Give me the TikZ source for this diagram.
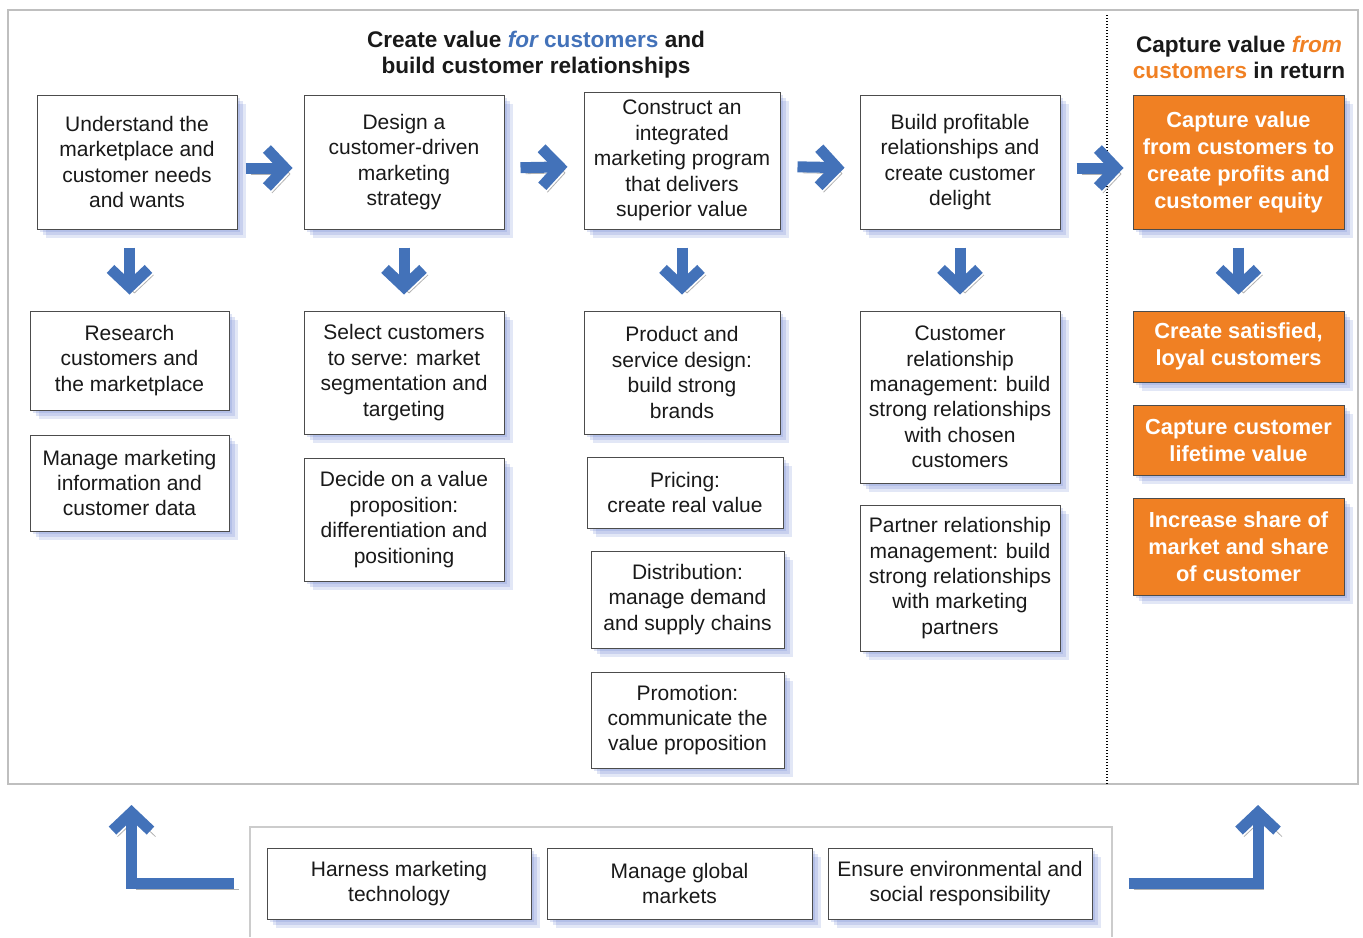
\documentclass[tikz,border=0pt]{standalone}
\usepackage{fontspec}
\setmainfont{Liberation Sans}
\usetikzlibrary{arrows.meta,shadows,calc}

\definecolor{flowblue}{RGB}{67,114,185}
\definecolor{captureorange}{RGB}{240,128,35}
\definecolor{shadowblue}{RGB}{95,120,205}

\begin{document}
\begin{tikzpicture}[x=0.5pt, y=-0.5pt,
    boxshadow/.style={
      general shadow={fill=shadowblue, opacity=.2, shadow xshift=1.5pt, shadow yshift=-1.5pt},
      general shadow={fill=shadowblue, opacity=.2, shadow xshift=3pt, shadow yshift=-3pt},
      general shadow={fill=shadowblue, opacity=.18, shadow xshift=4.5pt, shadow yshift=-4.5pt}},
    box/.style={draw=black!70, line width=0.5pt, fill=white, align=center, inner sep=1pt,
      text=black!90, font=\fontsize{10.5}{12.7}\selectfont, boxshadow},
    capbox/.style={box, fill=captureorange, text=white, font=\fontsize{10.9}{13.5}\selectfont\bfseries},
    title/.style={align=center, text=black!90, font=\fontsize{11.3}{13}\selectfont\bfseries},
    flow/.style={draw=flowblue, line width=5.5pt, -{Straight Barb[length=9pt,width=19pt]},
      preaction={draw=black!30, transform canvas={shift={(2.5pt,-3pt)}}}}]
  \useasboundingbox (0,0) rectangle (1363,937);

  % Frames
  \draw[black!25, line width=0.7pt] (8,10) rectangle (1358,784);
  \draw[black, line width=0.6pt, dash pattern=on 0.7pt off 0.8pt] (1107,15) -- (1107,784);
  \draw[black!20, line width=0.7pt] (250,937) |- (1112,827) -- (1112,937);

  % Headings
  \node[title] (ttlcreate) at (536,55)
    {Create value \textcolor{flowblue}{\itshape for} \textcolor{flowblue}{customers} and\\build customer relationships};
  \node[title] (ttlcapture) at (1239,57.5)
    {Capture value \textcolor{captureorange}{\itshape from}\\\textcolor{captureorange}{customers} in return};

  % Top row
  \node[box, minimum width=100pt, minimum height=67pt] (und) at (137,162)
    {Understand the\\marketplace and\\customer needs\\and wants};
  \node[box, minimum width=100pt, minimum height=67pt] (des) at (404,162)
    {Design a\\customer-driven\\marketing\\strategy};
  \node[box, minimum width=98pt, minimum height=68.5pt] (con) at (682,160.5)
    {Construct an\\integrated\\marketing program\\that delivers\\superior value};
  \node[box, minimum width=100pt, minimum height=67pt] (bui) at (960,162)
    {Build profitable\\relationships and\\create customer\\delight};
  \node[capbox, minimum width=105.5pt, minimum height=67pt] (cap) at (1238.5,162)
    {Capture value\\from customers to\\create profits and\\customer equity};

  % Column 1
  \node[box, minimum width=99.5pt, minimum height=49.5pt] (res) at (129.5,360.5)
    {Research\\customers and\\the marketplace};
  \node[box, minimum width=99.5pt, minimum height=48pt] (mmi) at (129.5,483)
    {Manage marketing\\information and\\customer data};

  % Column 2
  \node[box, minimum width=100pt, minimum height=61.5pt] (sel) at (404,372.5)
    {Select customers\\to serve: market\\segmentation and\\targeting};
  \node[box, minimum width=100pt, minimum height=61.5pt] (dec) at (404,519.5)
    {Decide on a value\\proposition:\\differentiation and\\positioning};

  % Column 3
  \node[box, minimum width=98pt, minimum height=61.5pt] (pro) at (682,372.5)
    {Product and\\service design:\\build strong\\brands};
  \node[box, minimum width=98pt, minimum height=35.5pt] (pri) at (685,492.5)
    {Pricing:\\create real value};
  \node[box, minimum width=96.5pt, minimum height=48.5pt] (dis) at (687.5,599.5)
    {Distribution:\\manage demand\\and supply chains};
  \node[box, minimum width=96.5pt, minimum height=48pt] (prm) at (687.5,720)
    {Promotion:\\communicate the\\value proposition};

  % Column 4
  \node[box, minimum width=100pt, minimum height=86pt] (crm) at (960,397)
    {Customer\\relationship\\management: build\\strong relationships\\with chosen\\customers};
  \node[box, minimum width=100pt, minimum height=73pt] (prt) at (960,578)
    {Partner relationship\\management: build\\strong relationships\\with marketing\\partners};

  % Column 5
  \node[capbox, minimum width=105.5pt, minimum height=35.5pt] (sat) at (1238.5,346.5)
    {Create satisfied,\\loyal customers};
  \node[capbox, minimum width=105.5pt, minimum height=35pt] (ltv) at (1238.5,440)
    {Capture customer\\lifetime value};
  \node[capbox, minimum width=105.5pt, minimum height=48.5pt] (shr) at (1238.5,546.5)
    {Increase share of\\market and share\\of customer};

  % Bottom row
  \node[box, minimum width=132pt, minimum height=35.5pt] (har) at (399,883.5)
    {Harness marketing\\technology};
  \node[box, minimum width=132.5pt, minimum height=35.5pt] (glo) at (679.5,883.5)
    {Manage global\\markets};
  \node[box, minimum width=132pt, minimum height=35.5pt] (env) at (960,883.5)
    {Ensure environmental and\\social responsibility};

  % Arrows along the top row
  \foreach \a/\b/\s/\e in {und/des/4/5.5, des/con/8/8, con/bui/8.5/7.5, bui/cap/8/4.5}
    \draw[flow, shorten <=\s pt, shorten >=\e pt] ([yshift=-3pt]\a.east) -- ([yshift=-3pt]\b.west);

  % Arrows down to the columns
  \foreach \a/\b in {und/res, des/sel, con/pro, bui/crm, cap/sat}
    \draw[flow, shorten <=9pt, shorten >=8pt] (\a.south -| \b.north) -- (\b.north);

  % Arrows back up from the bottom row
  \coordinate (lefttip) at (131.5,805);
  \coordinate (righttip) at (1258,805);
  \draw[flow, shorten <=16.5pt] (har.west) -| (lefttip);
  \draw[flow, shorten <=18pt] (env.east) -| (righttip);
\end{tikzpicture}
\end{document}
